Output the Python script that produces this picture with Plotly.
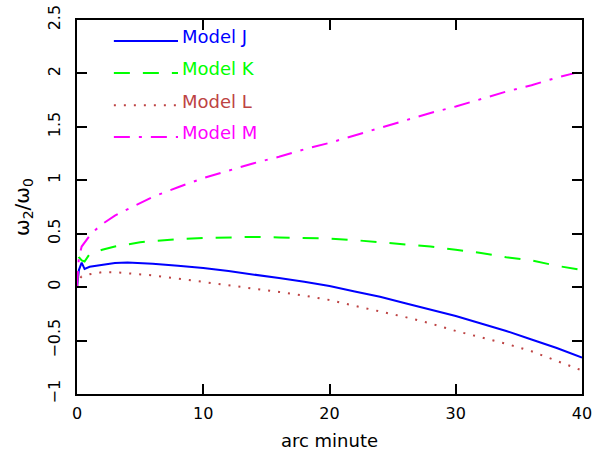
import plotly.graph_objects as go

# Angular distance (arc minutes) and omega_2/omega_0 for four models
arc_min = [0, 0.15, 0.37, 0.6, 1, 1.5, 2, 3, 4, 5, 6, 8, 10, 12, 14, 16, 18,
           20, 22, 24, 26, 28, 30, 32, 34, 36, 38, 40]
model_j = [0, 0.16, 0.23, 0.17, 0.19, 0.20, 0.21, 0.225, 0.23, 0.225, 0.22,
           0.20, 0.18, 0.15, 0.12, 0.085, 0.05, 0.01, -0.04, -0.09, -0.15,
           -0.21, -0.27, -0.34, -0.41, -0.49, -0.57, -0.66]
model_k = [0, 0.28, 0.25, 0.24, 0.31, 0.33, 0.35, 0.38, 0.40, 0.42, 0.43,
           0.45, 0.46, 0.465, 0.47, 0.465, 0.46, 0.455, 0.44, 0.42, 0.40,
           0.38, 0.35, 0.32, 0.28, 0.25, 0.20, 0.16]
model_l = [0, 0.07, 0.10, 0.11, 0.12, 0.13, 0.14, 0.14, 0.13, 0.12, 0.11,
           0.08, 0.05, 0.02, -0.01, -0.045, -0.08, -0.12, -0.175, -0.225,
           -0.28, -0.34, -0.41, -0.47, -0.53, -0.60, -0.69, -0.78]
model_m = [0, 0.28, 0.38, 0.42, 0.48, 0.54, 0.59, 0.67, 0.73, 0.79, 0.845,
           0.935, 1.02, 1.09, 1.16, 1.22, 1.29, 1.35, 1.42, 1.49, 1.56, 1.63,
           1.69, 1.76, 1.83, 1.89, 1.96, 2.02]

names = ["Model J", "Model K", "Model L", "Model M"]
colors = ["#0000ff", "#00ff00", "#bd4343", "#ff00ff"]
dashes = ["solid", "16px,13px", "2px,8px", "16px,9px,3px,9px"]
series = [model_j, model_k, model_l, model_m]

FONT = "DejaVu Sans, Verdana, sans-serif"

fig = go.Figure()
for name, ys, col, dash in zip(names, series, colors, dashes):
    fig.add_trace(go.Scatter(x=arc_min, y=ys, mode="lines", name=name,
                             line=dict(color=col, width=2, dash=dash),
                             showlegend=False))

# Key in the upper-left corner: line sample followed by a coloured label
key_y = [0.955, 0.869, 0.783, 0.698]
for name, col, dash, ky in zip(names, colors, dashes, key_y):
    fig.add_shape(type="line", xref="paper", yref="paper",
                  x0=0.073, x1=0.2, y0=ky - 0.011, y1=ky - 0.011,
                  line=dict(color=col, width=2, dash=dash))
    fig.add_annotation(xref="paper", yref="paper", x=0.203, y=ky,
                       text=name, showarrow=False, xanchor="left",
                       yanchor="middle",
                       font=dict(family=FONT, size=18, color=col))

axis_common = dict(showline=True, linecolor="black", linewidth=2,
                   mirror="ticks", ticks="inside", ticklen=10, tickwidth=2,
                   tickcolor="black", showgrid=False, zeroline=False,
                   automargin=False,
                   tickfont=dict(family=FONT, size=16, color="black"))

fig.update_xaxes(range=[0, 40], tickvals=[0, 10, 20, 30, 40],
                 ticklabelstandoff=4,
                 title=dict(text="arc minute",
                            font=dict(family=FONT, size=18, color="black"),
                            standoff=12),
                 **axis_common)
fig.update_yaxes(range=[-1, 2.5],
                 tickvals=[-1, -0.5, 0, 0.5, 1, 1.5, 2, 2.5],
                 ticktext=["\u22121", "\u22120.5", "0", "0.5", "1", "1.5", "2", "2.5"],
                 tickangle=-90, ticklabelstandoff=9,
                 title=dict(text="\u03c9<sub>2</sub>/\u03c9<sub>0</sub>",
                            font=dict(family=FONT, size=20, color="black"),
                            standoff=10),
                 **axis_common)

fig.update_layout(width=597, height=466,
                  margin=dict(l=77, r=15, t=20, b=72),
                  plot_bgcolor="white", paper_bgcolor="white")

fig.write_html("out.html")
